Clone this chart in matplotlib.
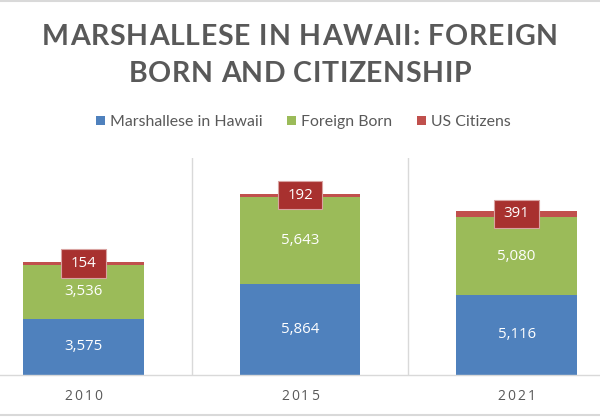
import matplotlib
matplotlib.use('Agg')
import matplotlib.pyplot as plt
from matplotlib.font_manager import FontProperties, findfont
from matplotlib.ft2font import FT2Font
from matplotlib.transforms import IdentityTransform
from matplotlib.path import Path
from matplotlib.lines import Line2D
from matplotlib.patches import Rectangle

# ---- data ----
years = ['2010', '2015', '2021']
series_names = ['Marshallese in Hawaii', 'Foreign Born', 'US Citizens']
marshallese = [3575, 5864, 5116]
foreign_born = [3536, 5643, 5080]
us_citizens = [154, 192, 391]
title_lines = ['MARSHALLESE IN HAWAII: FOREIGN', 'BORN AND CITIZENSHIP']

colors = ['#4F81BD', '#9BBB59', '#C0504D']
GRAY_TEXT = '#595959'
GRID = '#D9D9D9'

W, H, DPI = 600, 417, 100
fig = plt.figure(figsize=(W / DPI, H / DPI), dpi=DPI)
fig.patch.set_facecolor('white')
ID = IdentityTransform()


def advances(s, prop):
    f = FT2Font(findfont(prop))
    f.set_size(prop.get_size_in_points(), DPI)
    return [f.load_char(ord(c)).linearHoriAdvance / 65536 for c in s]


def spaced(s, xc, ybase_top, prop, spacing, color):
    adv = advances(s, prop)
    total = sum(adv) + spacing * (len(s) - 1)
    x = xc - total / 2
    for c, a in zip(s, adv):
        if c != ' ':
            fig.text(x, H - ybase_top, c, fontproperties=prop, color=color,
                     ha='left', va='baseline', transform=ID)
        x += a + spacing


# ---- axes ----
ax = fig.add_axes([-25 / W, (H - 374.5) / H, 650 / W, 216.4 / H])
x = list(range(len(years)))
width = 0.558
b1 = ax.bar(x, marshallese, width, color=colors[0], label=series_names[0])
b2 = ax.bar(x, foreign_born, width, bottom=marshallese, color=colors[1], label=series_names[1])
bottom3 = [a + b for a, b in zip(marshallese, foreign_born)]
b3 = ax.bar(x, us_citizens, width, bottom=bottom3, color=colors[2], label=series_names[2])

ax.set_xlim(-0.5, len(years) - 0.5)
ax.set_ylim(0, 14000)
ax.set_yticks([])
ax.set_xticks(x)
ax.set_xticklabels([''] * len(years))
ax.set_xticks([i + 0.5 for i in x[:-1]], minor=True)
ax.tick_params(axis='x', which='both', length=0)
ax.grid(which='minor', axis='x', color=GRID, lw=1)
ax.set_axisbelow(True)
for s in ['left', 'right', 'top']:
    ax.spines[s].set_visible(False)
ax.spines['bottom'].set_color(GRID)
ax.spines['bottom'].set_linewidth(1)

lab_prop = dict(family='Open Sans', size=10.8)
ax.bar_label(b1, fmt='{:,.0f}', label_type='center', color='white', **lab_prop)
ax.bar_label(b2, fmt='{:,.0f}', label_type='center', color='white', **lab_prop)


def wide_box(x0, y0, w, h, mutation_size):
    px = 0.62 * mutation_size
    py = 0.45 * mutation_size
    xa, xb = x0 - px, x0 + w + px
    ya, yb = y0 - py, y0 + h + py
    return Path([(xa, ya), (xb, ya), (xb, yb), (xa, yb), (xa, ya)],
                [Path.MOVETO, Path.LINETO, Path.LINETO, Path.LINETO, Path.CLOSEPOLY])


ax.bar_label(b3, fmt='{:,.0f}', label_type='center', color='white',
             bbox=dict(boxstyle=wide_box, fc='#A8312F', ec='#D9A3A1', lw=0.8), **lab_prop)

# ---- x tick labels (letter spaced) ----
fig.canvas.draw()
tick_prop = FontProperties(family='Open Sans', size=10)
for i, yr in enumerate(years):
    xc = ax.transData.transform((i, 0))[0]
    spaced(yr, xc, 400, tick_prop, 2.0, GRAY_TEXT)

# ---- title (letter spaced) ----
title_prop = FontProperties(family='Lato', weight='bold', size=20.5)
for line, base, target in zip(title_lines, [45, 82], [516, 342]):
    adv = advances(line, title_prop)
    sp = (target - sum(adv)) / (len(line) - 1)
    spaced(line, 300, base, title_prop, sp, GRAY_TEXT)

# ---- legend (manual) ----
leg_prop = FontProperties(family='Lato', size=10)
base_w = sum(advances(series_names[0], leg_prop))
leg_prop = FontProperties(family='Lato', size=10 * 152 / base_w)
sq = 9
gap_sq = 5
gap_item = 25
widths = [sum(advances(n, leg_prop)) for n in series_names]
total = sum(sq + gap_sq + w for w in widths) + gap_item * (len(series_names) - 1)
xpos = 303 - total / 2
for name, col, w in zip(series_names, colors, widths):
    fig.add_artist(Rectangle((xpos, H - 125), sq, sq, facecolor=col, edgecolor='none', transform=ID))
    fig.text(xpos + sq + gap_sq, H - 125.7, name, fontproperties=leg_prop, color=GRAY_TEXT,
             ha='left', va='baseline', transform=ID)
    xpos += sq + gap_sq + w + gap_item

# ---- chart border remnants ----
fig.add_artist(Line2D([0, 1], [1 - 1 / H, 1 - 1 / H], color=GRID, lw=1.5, transform=fig.transFigure))
fig.add_artist(Line2D([0, 1], [2 / H, 2 / H], color=GRID, lw=1.5, transform=fig.transFigure))

fig.savefig('out.png', dpi=DPI, facecolor='white')
